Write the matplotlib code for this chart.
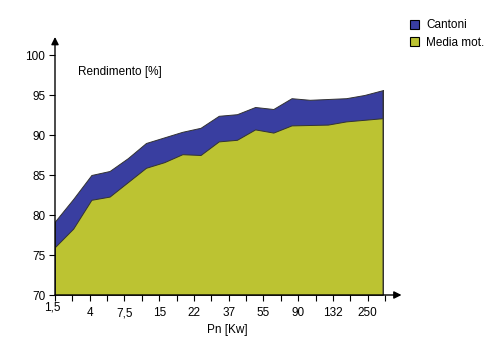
import numpy as np
import matplotlib
matplotlib.use("Agg")
import matplotlib.pyplot as plt
from matplotlib.patches import Patch
from matplotlib.transforms import ScaledTranslation

plt.rcParams["font.family"] = ["Liberation Sans", "DejaVu Sans"]

# ── data (19 points along the power axis) ────────────────────────────────
cantoni = [79.2, 82.0, 85.0, 85.5, 87.1, 89.0, 89.7, 90.4, 90.9, 92.4,
           92.6, 93.5, 93.25, 94.6, 94.4, 94.5, 94.6, 95.0, 95.6]
media   = [76.0, 78.3, 81.9, 82.3, 84.1, 85.9, 86.6, 87.6, 87.5, 89.2,
           89.4, 90.7, 90.3, 91.2, 91.25, 91.3, 91.7, 91.9, 92.1]

# tick labels (every other tick carries one)
tick_labels = ["1,5", "", "4", "", "7,5", "", "15", "", "22", "",
               "37", "", "55", "", "90", "", "132", "", "250", ""]
y_ticks = [70, 75, 80, 85, 90, 95, 100]

BLUE  = "#393ea0"
OLIVE = "#bcc332"
EDGE  = "#333333"

fig = plt.figure(figsize=(5.0, 3.48), dpi=100)
ax = fig.add_axes([55 / 500, 1 - 295 / 348, 330 / 500, 240 / 348])

x = np.arange(len(cantoni))
ax.fill_between(x, cantoni, 70, facecolor=BLUE, edgecolor=EDGE, lw=0.7)
ax.fill_between(x, media, 70, facecolor=OLIVE, edgecolor=EDGE, lw=0.7)
ax.plot([x[-1], x[-1]], [70, cantoni[-1]], color=EDGE, lw=0.7)

ax.set_xlim(0, len(cantoni) - 1)
ax.set_ylim(70, 100)

for s in ax.spines.values():
    s.set_visible(False)

# axis lines with arrow heads
arrow = dict(arrowstyle="-|>", color="k", lw=1.0, mutation_scale=11,
             shrinkA=0, shrinkB=0)
ax.annotate("", xy=(1.05, 0), xytext=(0, 0), xycoords="axes fraction",
            arrowprops=arrow, annotation_clip=False)
ax.annotate("", xy=(0, 1.075), xytext=(0, 0), xycoords="axes fraction",
            arrowprops=arrow, annotation_clip=False)

# ticks are spaced 17.5 px while the data points sit 18.33 px apart
tick_pos = np.arange(len(tick_labels)) * 17.5 / (330 / (len(cantoni) - 1))
ax.set_xticks(tick_pos)
ax.set_xticklabels(tick_labels, fontsize=8.5)
ax.set_yticks(y_ticks)
ax.set_yticklabels([str(v) for v in y_ticks], fontsize=8.5)
ax.tick_params(axis="both", direction="out", length=4, width=0.8,
               color="k", pad=3)
ax.tick_params(axis="x", pad=5)

# first label sits a bit higher in the reference
lbl0 = ax.get_xticklabels()[0]
lbl0.set_transform(lbl0.get_transform()
                   + ScaledTranslation(-3 / 100, 6 / 100, fig.dpi_scale_trans))

ax.set_xlabel("Pn [Kw]", fontsize=8.5)
ax.xaxis.set_label_coords((227 - 55) / 330, (295 - 324) / 240)

ax.text((78 - 55) / 330, (295 - 72) / 240, "Rendimento [%]",
        transform=ax.transAxes, fontsize=8.5, ha="left", va="center")

handles = [Patch(facecolor=BLUE, edgecolor="k", lw=0.8, label="Cantoni"),
           Patch(facecolor=OLIVE, edgecolor="k", lw=0.8, label="Media mot.")]
fig.legend(handles=handles, loc="upper left",
           bbox_to_anchor=(408 / 500, 1 - 17 / 348), frameon=False,
           fontsize=8.5, handlelength=0.75, handleheight=0.75,
           handletextpad=0.6, labelspacing=0.45, borderaxespad=0,
           borderpad=0.2)

fig.savefig("out.png", dpi=100)
